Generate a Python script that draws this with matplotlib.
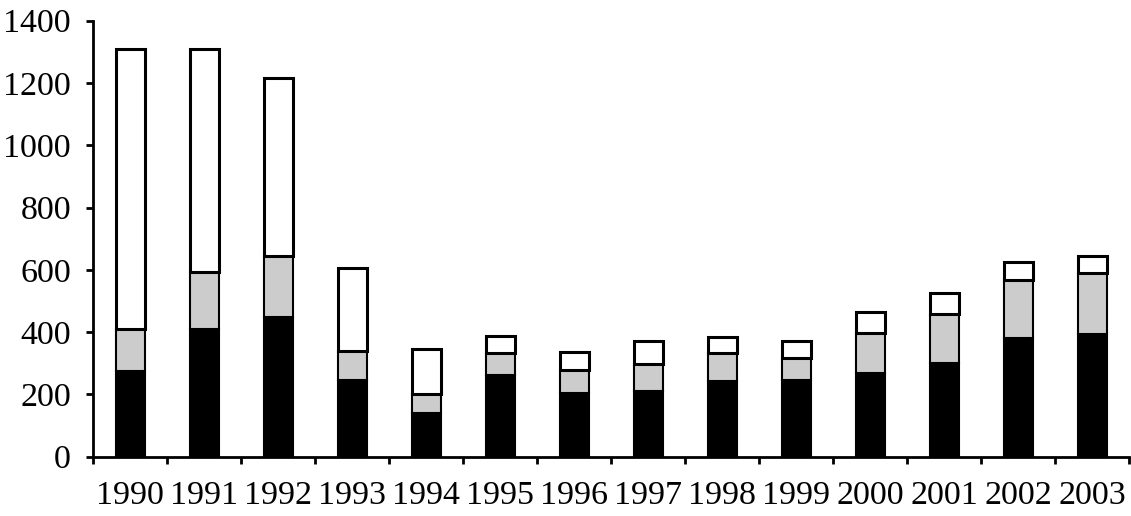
import numpy as np
import matplotlib.pyplot as plt

# Values (stacked: black bottom, grey middle, white top)
years = ["1990", "1991", "1992", "1993", "1994", "1995", "1996",
         "1997", "1998", "1999", "2000", "2001", "2002", "2003"]
black = [275, 409, 447, 246, 139, 261, 205, 210, 244, 245, 270, 300, 380, 393]
grey_top = [410, 594, 644, 340, 200, 332, 278, 298, 332, 318, 396, 458, 567, 589]
total = [1308, 1308, 1215, 607, 345, 388, 337, 371, 383, 371, 463, 524, 626, 645]

grey = [g - b for g, b in zip(grey_top, black)]
white = [t - g for t, g in zip(total, grey_top)]

plt.rcParams["font.family"] = ["Liberation Serif", "DejaVu Serif"]
plt.rcParams["font.size"] = 24.5

fig = plt.figure(figsize=(11.31, 5.16), dpi=100)
ax = fig.add_axes([0.0825, 0.115, 0.916, 0.845])

x = np.arange(len(years))
w = 0.4
ax.bar(x, black, w, color="black", edgecolor="black", linewidth=1.5)
ax.bar(x, grey, w, bottom=black, color="#cccccc", edgecolor="black", linewidth=1.5)
ax.bar(x, white, w, bottom=grey_top, color="white", edgecolor="black", linewidth=2.2)

ax.set_ylim(0, 1400)
ax.set_yticks(range(0, 1401, 200))
ax.set_xlim(-0.5, len(years) - 0.5)
ax.set_xticks(x)
ax.set_xticklabels(years)
ax.tick_params(axis="x", length=0, pad=17)
ax.set_xticks(np.arange(-0.5, len(years)), minor=True)
ax.tick_params(axis="x", which="minor", length=5, width=2, direction="out")
ax.tick_params(axis="y", length=5, width=2, direction="out", pad=11)

for s in ["top", "right"]:
    ax.spines[s].set_visible(False)
for s in ["left", "bottom"]:
    ax.spines[s].set_linewidth(2)

plt.savefig("out.png", dpi=100)
